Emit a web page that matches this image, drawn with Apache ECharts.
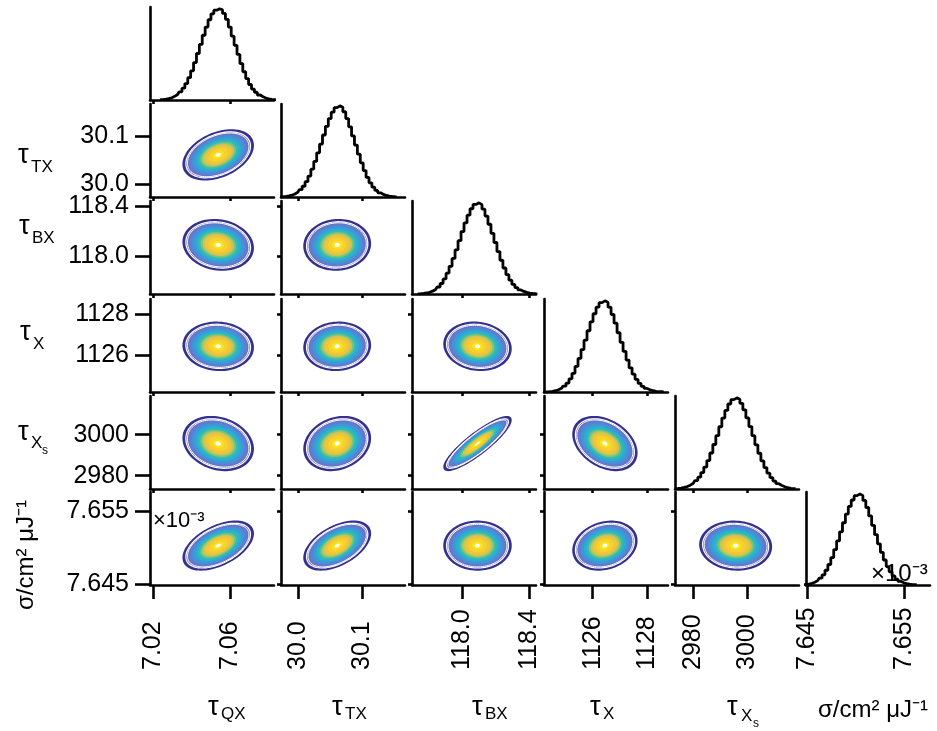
<!DOCTYPE html>
<html><head><meta charset="utf-8">
<script src="https://cdn.jsdelivr.net/npm/echarts@6/dist/echarts.min.js"></script>
<style>html,body{margin:0;padding:0;background:#fff}#c{width:937px;height:731px}</style>
</head><body><div id="c"></div>
<script>
// ---------------- data ----------------
const axisMin = [7.0184, 29.974, 117.696, 1124.22, 2973.5, 7.6449];
const axisMax = [7.0826, 30.166, 118.442, 1128.76, 3018.9, 7.65765];
const tickValues = [[7.02, 7.06], [30.0, 30.1], [118.0, 118.4], [1126, 1128], [2980, 3000], [7.645, 7.655]];
const tickDecimals = [2, 1, 1, 0, 0, 3];
const means = [7.0537, 30.061, 118.09, 1126.45, 2995.7, 7.6503];
const sds = [0.009, 0.0255, 0.10, 0.58, 6.5, 0.00165];
// lower-triangle correlations: corrRows[i][j], j < i
const corrRows = [
  [],
  [0.38],
  [-0.12, 0.05],
  [-0.05, 0.05, -0.1],
  [-0.2, 0.2, 0.88, -0.35],
  [0.5, 0.5, 0.0, 0.2, -0.05]
];
const histFirst = [7.0237, 29.973, 117.73, 1124.2, 2973.6, 7.6443];
const histStep = [0.0015, 0.0045, 0.018, 0.11, 1.1, 0.0003];
const hist0 = [.003,.005,.009,.015,.025,.04,.06,.09,.13,.18,.245,.32,.41,.51,.61,.71,.80,.88,.945,.985,1.0,.99,.95,.885,.80,.70,.60,.50,.40,.31,.235,.17,.12,.085,.055,.035,.022,.013,.008,.004,.002];
const hist1 = [.002,.004,.007,.012,.02,.033,.052,.08,.118,.168,.23,.305,.39,.485,.58,.68,.775,.86,.93,.98,1.0,.985,.935,.86,.77,.67,.57,.47,.375,.29,.215,.155,.108,.072,.046,.028,.017,.01,.006,.003,.002];
const hist2 = [.002,.003,.006,.011,.019,.031,.05,.077,.115,.165,.228,.303,.39,.485,.585,.685,.78,.865,.935,.982,1.0,.98,.93,.855,.765,.665,.565,.465,.37,.285,.212,.152,.105,.07,.045,.028,.017,.01,.006,.003,.002];
const hist3 = [.001,.002,.004,.008,.014,.024,.04,.064,.098,.145,.205,.28,.368,.465,.568,.672,.77,.858,.93,.98,1.0,.982,.93,.85,.755,.65,.545,.445,.35,.265,.195,.138,.094,.062,.039,.024,.014,.008,.005,.003,.001];
const hist4 = [.003,.006,.01,.017,.027,.042,.063,.092,.13,.18,.24,.312,.395,.488,.585,.683,.778,.862,.932,.98,1.0,.985,.94,.868,.78,.685,.585,.485,.392,.308,.235,.174,.125,.087,.058,.038,.024,.014,.008,.005,.003];
const hist5 = [.002,.003,.006,.01,.018,.03,.048,.075,.112,.162,.225,.3,.388,.483,.583,.683,.778,.862,.932,.98,1.0,.98,.928,.85,.758,.655,.552,.452,.358,.274,.202,.144,.099,.065,.041,.025,.015,.009,.005,.003,.002];
const hists = [hist0, hist1, hist2, hist3, hist4, hist5];
// contour levels (fraction of outer radius, in sd units) and colours
const contourRadius = 2.0;
const contourLevels = [1.0, 0.93, 0.885, 0.83, 0.75, 0.66, 0.58, 0.51, 0.45, 0.38, 0.28, 0.16, 0.08];
const contourFill = ['#3b3896','#5d5db6','#6d70c2','#5a80d2','#3f96d8','#2aaed2','#35bcb0','#7ec47e','#c8c655','#f2c43c','#f6d22c','#fae41e','#ffffff'];
const contourStroke = ['#34318c','#ffffff','#ffffff',null,null,null,null,null,null,null,null,null,null];
const contourWidth = [2, 1.2, 1, 0, 0, 0, 0, 0, 0, 0, 0, 0, 0];

// ---------------- layout ----------------
const colLeft = [150, 281, 412, 544, 675, 806];
const rowTop = [7, 104, 201, 299, 396, 492];
const panelW = 124, panelH = 93;
const FONT = 'Liberation Sans, Arial, sans-serif';
const N = 6;

const grids = [], xAxes = [], yAxes = [], series = [];
function fmt(d) { return v => Number(v).toFixed(d); }

function renderContour(params, api) {
  const mx = api.value(0), my = api.value(1), sx = api.value(2), sy = api.value(3), rho = api.value(4);
  const q = Math.sqrt(1 - rho * rho);
  const children = [];
  contourLevels.forEach((lev, k) => {
    const pts = [];
    const R = contourRadius * lev;
    for (let s = 0; s < 90; s++) {
      const t = s / 90 * 2 * Math.PI;
      const u = Math.cos(t), v = Math.sin(t);
      pts.push(api.coord([mx + R * sx * u, my + R * sy * (rho * u + q * v)]));
    }
    children.push({
      type: 'polygon', shape: { points: pts },
      style: { fill: contourFill[k], stroke: contourStroke[k], lineWidth: contourWidth[k] }
    });
  });
  return { type: 'group', children };
}

let g = 0;
for (let i = 0; i < N; i++) {
  for (let j = 0; j <= i; j++) {
    grids.push({ left: colLeft[j], top: rowTop[i], width: panelW, height: panelH, containLabel: false });
    const bottomRow = (i === N - 1);
    xAxes.push({
      gridIndex: g, type: 'value', min: axisMin[j], max: axisMax[j],
      axisLine: { show: true, onZero: false, lineStyle: { color: '#000', width: 2.6 } },
      axisTick: { show: true, customValues: tickValues[j], length: bottomRow ? 14 : 4, lineStyle: { color: '#000', width: 2.6 } },
      axisLabel: {
        show: bottomRow, customValues: tickValues[j], rotate: 90, align: 'left', verticalAlign: 'middle',
        margin: 85, formatter: fmt(tickDecimals[j]), fontSize: 25, fontFamily: FONT, color: '#000'
      },
      splitLine: { show: false }
    });
    if (i === j) {
      yAxes.push({
        gridIndex: g, type: 'value', min: 0, max: 1.02,
        axisLine: { show: true, onZero: false, lineStyle: { color: '#000', width: 2.6 } },
        axisTick: { show: false }, axisLabel: { show: false }, splitLine: { show: false }
      });
      const h = hists[i];
      series.push({
        type: 'line', xAxisIndex: g, yAxisIndex: g, step: 'middle', showSymbol: false, symbol: 'none',
        lineStyle: { color: '#000', width: 2.8 }, animation: false, clip: true,
        data: h.map((v, k) => [histFirst[i] + k * histStep[i], v])
      });
    } else {
      const firstCol = (j === 0);
      yAxes.push({
        gridIndex: g, type: 'value', min: axisMin[i], max: axisMax[i],
        axisLine: { show: true, onZero: false, lineStyle: { color: '#000', width: 2.6 } },
        axisTick: { show: true, customValues: tickValues[i], length: firstCol ? 15 : 4, lineStyle: { color: '#000', width: 2.6 } },
        axisLabel: {
          show: firstCol, customValues: tickValues[i], margin: 21, formatter: fmt(tickDecimals[i]),
          fontSize: 25, fontFamily: FONT, color: '#000'
        },
        splitLine: { show: false }
      });
      series.push({
        type: 'custom', xAxisIndex: g, yAxisIndex: g, renderItem: renderContour, animation: false,
        data: [[means[j], means[i], sds[j], sds[i], corrRows[i][j]]]
      });
    }
    g++;
  }
}

// ---------------- axis names (text) ----------------
function nameGroup(x, y, parts, rotation) {
  return {
    type: 'group', x: x, y: y, rotation: rotation || 0,
    children: parts.map(p => ({
      type: 'text', x: p[1], y: p[2],
      style: { text: p[0], fontSize: p[3], fontFamily: FONT, fill: '#000', align: p[4] || 'left', verticalAlign: 'middle' }
    }))
  };
}
const graphics = [
  nameGroup(18, 156, [['τ', 0, 0, 27], ['TX', 13, 11, 17]]),
  nameGroup(19, 227, [['τ', 0, 0, 27], ['BX', 13, 11, 17]]),
  nameGroup(20, 333, [['τ', 0, 0, 27], ['X', 13, 11, 17]]),
  nameGroup(18, 433, [['τ', 0, 0, 27], ['X', 13, 10, 17], ['s', 24, 18, 12]]),
  nameGroup(26, 555, [['σ/cm² μJ⁻¹', 0, 0, 24, 'center']], Math.PI / 2),
  nameGroup(208, 708, [['τ', 0, 0, 27], ['QX', 13, 6, 17]]),
  nameGroup(332, 708, [['τ', 0, 0, 27], ['TX', 13, 6, 17]]),
  nameGroup(472, 708, [['τ', 0, 0, 27], ['BX', 13, 6, 17]]),
  nameGroup(590, 708, [['τ', 0, 0, 27], ['X', 13, 6, 17]]),
  nameGroup(727, 708, [['τ', 0, 0, 27], ['X', 14, 8, 17], ['s', 26, 16, 12]]),
  nameGroup(818, 710, [['σ/cm² μJ⁻¹', 0, 0, 24]]),
  nameGroup(153, 521, [['×10⁻³', 0, 0, 22]]),
  nameGroup(871, 574, [['×10⁻³', 0, 0, 24]])
];

const chart = echarts.init(document.getElementById('c'), null, { renderer: 'canvas' });
chart.setOption({
  animation: false,
  backgroundColor: '#fff',
  grid: grids, xAxis: xAxes, yAxis: yAxes, series: series,
  graphic: graphics
});
</script>
</body></html>
